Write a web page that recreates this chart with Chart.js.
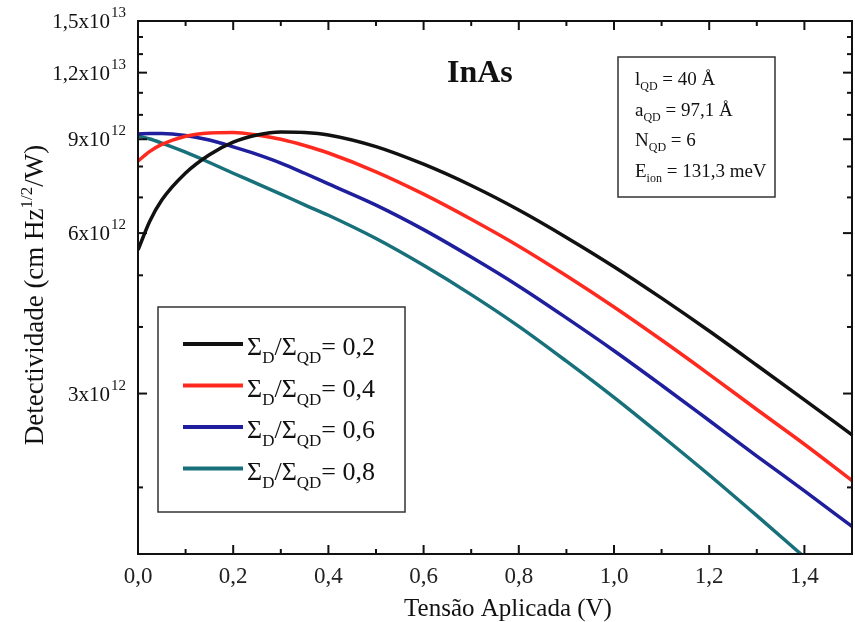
<!DOCTYPE html>
<html>
<head>
<meta charset="utf-8">
<title>InAs - Detectividade x Tensão</title>
<script src="https://cdn.jsdelivr.net/npm/chart.js@4.4.1/dist/chart.umd.min.js"></script>
<style>
  html, body { margin: 0; padding: 0; background: #fff; }
  #wrap { width: 855px; height: 622px; }
</style>
</head>
<body>
<div id="wrap"><canvas id="chart" width="855" height="622"></canvas></div>
<script>
// Tensão aplicada (V)
const tensao = [0, 0.025, 0.05, 0.1, 0.15, 0.2, 0.25, 0.3, 0.35, 0.4, 0.5, 0.6, 0.7, 0.8, 0.9, 1.0, 1.1, 1.2, 1.3, 1.4, 1.5];
// Detectividade em unidades de 1e12 cm Hz^1/2 / W
const d02 = [5.58, 6.32, 6.92, 7.78, 8.42, 8.89, 9.17, 9.29, 9.27, 9.17, 8.72, 8.08, 7.37, 6.63, 5.89, 5.19, 4.53, 3.93, 3.39, 2.92, 2.51];
const d04 = [8.19, 8.54, 8.80, 9.12, 9.25, 9.27, 9.17, 9.00, 8.76, 8.48, 7.82, 7.10, 6.37, 5.67, 4.99, 4.36, 3.78, 3.26, 2.80, 2.41, 2.06];
const d06 = [9.21, 9.23, 9.23, 9.15, 8.97, 8.71, 8.43, 8.12, 7.77, 7.42, 6.77, 6.09, 5.41, 4.77, 4.16, 3.61, 3.11, 2.67, 2.29, 1.97, 1.69];
const d08 = [9.13, 9.01, 8.85, 8.51, 8.14, 7.77, 7.43, 7.10, 6.78, 6.48, 5.86, 5.22, 4.60, 4.01, 3.45, 2.95, 2.50, 2.11, 1.77, 1.48, null];
const razoes = ['0,2', '0,4', '0,6', '0,8'];
const cores = ['#111111', '#ff2a1f', '#1f1f9e', '#17707a'];

// eixos
const xTicks = [0, 0.2, 0.4, 0.6, 0.8, 1.0, 1.2, 1.4];
const xMinor = [0.1, 0.3, 0.5, 0.7, 0.9, 1.1, 1.3];
const yTicks = [3, 6, 9, 12, 15];
const yTickBase = ['3x10', '6x10', '9x10', '1,2x10', '1,5x10'];
const yTickExp = ['12', '12', '12', '13', '13'];
const yMinor = [2, 4, 5, 7, 8, 10, 11, 13, 14];

// caixa de parâmetros
const paramNome = ['l', 'a', 'N', 'E'];
const paramSub = ['QD', 'QD', 'QD', 'ion'];
const paramValor = [' = 40 Å', ' = 97,1 Å', ' = 6', ' = 131,3 meV'];

const SERIF = '"Liberation Serif", "DejaVu Serif", serif';

// escreve texto com subscrito/sobrescrito em sequência, retorna x final
function drawParts(ctx, x, y, parts) {
    parts.forEach(p => {
        ctx.font = (p.bold ? 'bold ' : '') + p.size + 'px ' + SERIF;
        ctx.fillText(p.t, x, y + (p.dy || 0));
        x += ctx.measureText(p.t).width;
    });
    return x;
}
function partsWidth(ctx, parts) {
    let w = 0;
    parts.forEach(p => {
        ctx.font = p.size + 'px ' + SERIF;
        w += ctx.measureText(p.t).width;
    });
    return w;
}

const decor = {
    id: 'decor',
    afterDraw(chart) {
        const ctx = chart.ctx;
        const a = chart.chartArea;
        const sx = chart.scales.x;
        const sy = chart.scales.y;
        ctx.save();
        ctx.fillStyle = '#111';
        ctx.strokeStyle = '#111';

        // moldura
        ctx.lineWidth = 2;
        ctx.strokeRect(a.left, a.top, a.right - a.left, a.bottom - a.top);

        // marcas para dentro
        const seg = (x1, y1, x2, y2) => { ctx.beginPath(); ctx.moveTo(x1, y1); ctx.lineTo(x2, y2); ctx.stroke(); };
        ctx.lineWidth = 2;
        xTicks.forEach(v => { const p = sx.getPixelForValue(v); seg(p, a.bottom, p, a.bottom - 9); seg(p, a.top, p, a.top + 9); });
        xMinor.forEach(v => { const p = sx.getPixelForValue(v); seg(p, a.bottom, p, a.bottom - 5); seg(p, a.top, p, a.top + 5); });
        yTicks.forEach(v => { const p = sy.getPixelForValue(v); seg(a.left, p, a.left + 9, p); seg(a.right, p, a.right - 9, p); });
        yMinor.forEach(v => { const p = sy.getPixelForValue(v); seg(a.left, p, a.left + 5, p); seg(a.right, p, a.right - 5, p); });

        // rótulos do eixo y (com expoente)
        ctx.textBaseline = 'alphabetic';
        yTicks.forEach((v, i) => {
            const p = sy.getPixelForValue(v);
            ctx.font = '21px ' + SERIF;
            ctx.textAlign = 'right';
            ctx.fillText(yTickBase[i], 110, p + 7);
            ctx.font = '15px ' + SERIF;
            ctx.textAlign = 'left';
            ctx.fillText(yTickExp[i], 111, p - 4);
        });

        // título do eixo y
        ctx.save();
        ctx.translate(43, 295);
        ctx.rotate(-Math.PI / 2);
        ctx.textAlign = 'left';
        const yt = [
            { t: 'Detectividade (cm Hz', size: 27 },
            { t: '1/2', size: 17, dy: -11 },
            { t: '/W)', size: 27 }
        ];
        drawParts(ctx, -partsWidth(ctx, yt) / 2, 0, yt);
        ctx.restore();

        // título do eixo x
        ctx.textAlign = 'center';
        ctx.font = '25px ' + SERIF;
        ctx.fillText('Tensão Aplicada (V)', 508, 616);

        // InAs
        ctx.textAlign = 'left';
        ctx.font = 'bold 32px ' + SERIF;
        ctx.fillText('InAs', 447, 82);

        // caixa de parâmetros
        ctx.fillStyle = '#fff';
        ctx.fillRect(618, 57, 157, 140);
        ctx.lineWidth = 1.5;
        ctx.strokeStyle = '#333';
        ctx.strokeRect(618, 57, 157, 140);
        ctx.fillStyle = '#111';
        paramNome.forEach((n, i) => {
            drawParts(ctx, 635, 85 + i * 30.7, [
                { t: n, size: 19 },
                { t: paramSub[i], size: 12, dy: 5 },
                { t: paramValor[i], size: 19 }
            ]);
        });

        // legenda
        ctx.fillStyle = '#fff';
        ctx.fillRect(158, 307, 247, 205);
        ctx.strokeStyle = '#333';
        ctx.lineWidth = 1.5;
        ctx.strokeRect(158, 307, 247, 205);
        chart.data.datasets.forEach((ds, i) => {
            const yy = 344 + i * 41.5;
            ctx.strokeStyle = ds.borderColor;
            ctx.lineWidth = 4;
            seg(183, yy, 243, yy);
            ctx.fillStyle = '#111';
            drawParts(ctx, 247, yy + 11, [
                { t: 'Σ', size: 26 },
                { t: 'D', size: 17, dy: 8 },
                { t: '/Σ', size: 26 },
                { t: 'QD', size: 17, dy: 8 },
                { t: '= ' + razoes[i], size: 26 }
            ]);
        });

        ctx.restore();
    }
};

const series = [d02, d04, d06, d08];
const datasets = series.map((d, i) => ({
    label: 'ΣD/ΣQD = ' + razoes[i],
    data: tensao.map((x, j) => ({ x: x, y: d[j] })),
    borderColor: cores[i],
    backgroundColor: cores[i],
    borderWidth: 3.5,
    pointRadius: 0,
    cubicInterpolationMode: 'monotone',
    fill: false
}));

new Chart(document.getElementById('chart'), {
    type: 'line',
    data: { datasets: datasets },
    options: {
        responsive: false,
        animation: false,
        devicePixelRatio: 1,
        layout: { padding: { top: 21, right: 3, left: 0, bottom: 0 } },
        plugins: { legend: { display: false }, tooltip: { enabled: false } },
        scales: {
            x: {
                type: 'linear',
                min: 0,
                max: 1.5,
                afterBuildTicks: s => { s.ticks = xTicks.map(v => ({ value: v })); },
                afterFit: s => { s.height = 68; },
                grid: { display: false, drawTicks: false },
                border: { display: false },
                ticks: {
                    autoSkip: false,
                    maxRotation: 0,
                    padding: 9,
                    color: '#222',
                    font: { family: SERIF, size: 23 },
                    callback: v => v.toFixed(1).replace('.', ',')
                }
            },
            y: {
                type: 'logarithmic',
                min: 1.5,
                max: 15,
                afterFit: s => { s.width = 138; },
                grid: { display: false, drawTicks: false },
                border: { display: false },
                ticks: { display: false }
            }
        }
    },
    plugins: [decor]
});
</script>
</body>
</html>
